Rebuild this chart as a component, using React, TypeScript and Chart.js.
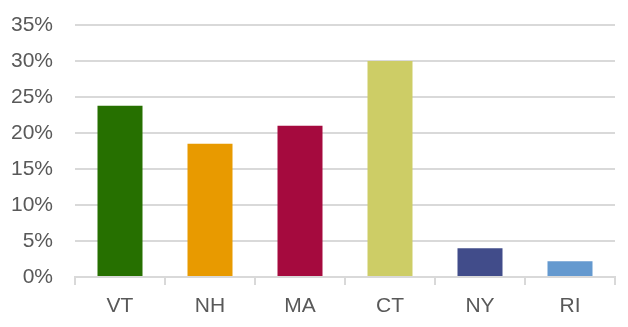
import React, { useEffect, useRef } from "react";
import { Chart, registerables } from "chart.js";

Chart.register(...registerables);

const categories = ["VT", "NH", "MA", "CT", "NY", "RI"];
const values = [23.8, 18.5, 21.0, 30.0, 4.0, 2.2];
const barColors = ["#267000", "#e89a00", "#a50a3e", "#cdcd66", "#414c8a", "#6499cf"];
const yTicks = [0, 5, 10, 15, 20, 25, 30, 35];

export default function App() {
  const ref = useRef<HTMLCanvasElement | null>(null);
  useEffect(() => {
    document.body.style.margin = "0";
    const ctx = ref.current!;
    const chart = new Chart(ctx, {
      type: "bar",
      data: {
        labels: categories,
        datasets: [
          {
            data: values,
            backgroundColor: barColors,
            borderWidth: 0,
            categoryPercentage: 1,
            barPercentage: 0.5,
          },
        ],
      },
      options: {
        animation: false,
        responsive: false,
        maintainAspectRatio: false,
        layout: { padding: { top: 25, right: 13, left: 0, bottom: 0 } },
        plugins: { legend: { display: false }, tooltip: { enabled: false } },
        scales: {
          x: {
            grid: {
              offset: true,
              drawOnChartArea: false,
              drawTicks: true,
              tickLength: 8,
              color: "#d9d9d9",
              lineWidth: 2,
            },
            border: { display: true, color: "#d9d9d9", width: 2 },
            ticks: {
              color: "#595959",
              font: { family: "Liberation Sans, Arial, sans-serif", size: 21 },
              padding: 9,
            },
            afterFit: (axis: any) => {
              axis.height = 50;
            },
          },
          y: {
            min: 0,
            max: 35,
            afterBuildTicks: (axis: any) => {
              axis.ticks = yTicks.map((v) => ({ value: v }));
            },
            afterFit: (axis: any) => {
              axis.width = 75;
              axis.paddingTop = 0;
              axis.paddingBottom = 0;
            },
            grid: { color: "#d9d9d9", lineWidth: 2, drawTicks: false },
            border: { display: false },
            ticks: {
              color: "#595959",
              font: { family: "Liberation Sans, Arial, sans-serif", size: 21 },
              padding: 22,
              callback: (v: any) => v + "%",
            },
          },
        },
      },
    });
    return () => chart.destroy();
  }, []);
  return (
    <div style={{ width: 628, height: 327 }}>
      <canvas ref={ref} width={628} height={327} style={{ width: 628, height: 327 }} />
    </div>
  );
}
